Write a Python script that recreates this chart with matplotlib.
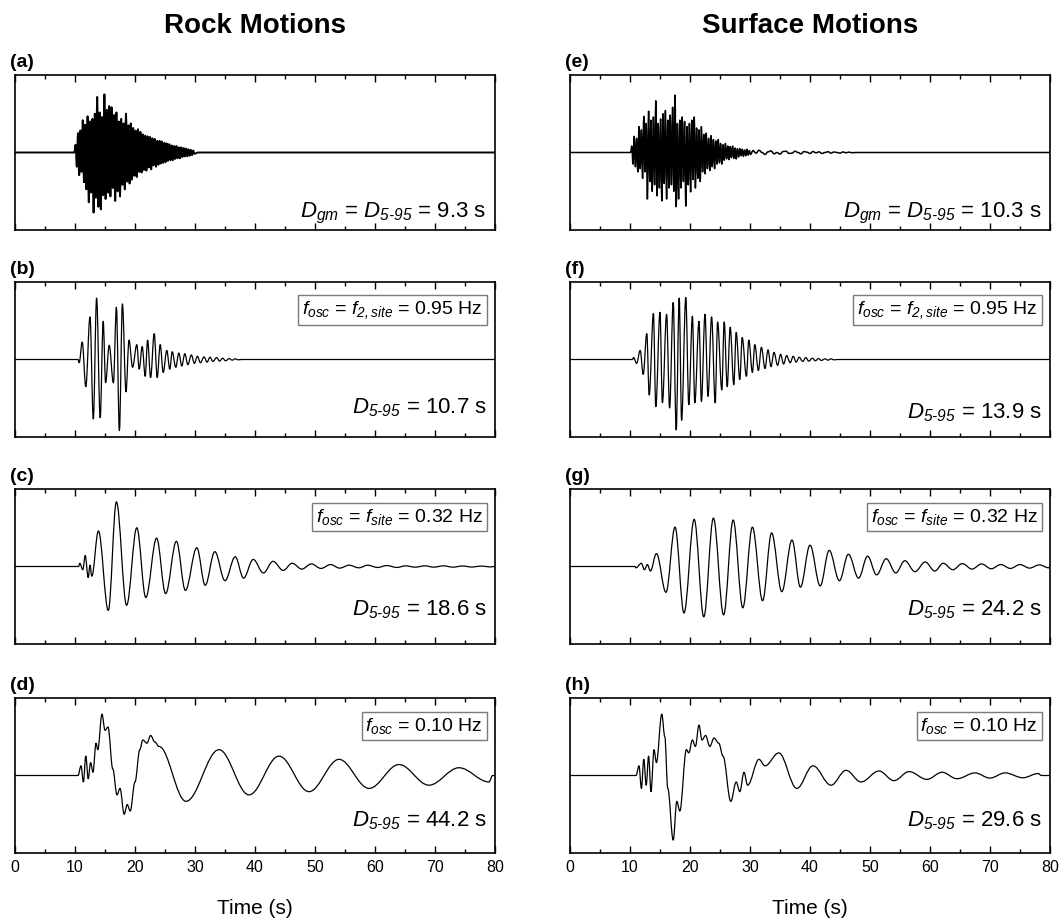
import numpy as np
import matplotlib
matplotlib.use("Agg")
import matplotlib.pyplot as plt
from matplotlib.path import Path
from matplotlib.patches import PathPatch
from matplotlib.ticker import MultipleLocator

plt.rcParams.update({
    "font.family": ["Liberation Sans", "DejaVu Sans"],
    "mathtext.fontset": "custom",
    "mathtext.rm": "Liberation Sans:italic",
    "mathtext.it": "Liberation Sans:italic",
    "mathtext.bf": "Liberation Sans:bold",
})

# ---------------------------------------------------------------- data
# Dense acceleration records: alternating peaks sampled every DENSE_DT seconds
DENSE_DT = 0.2
rock_acc_onset = 10.1
rock_acc = [0.12, -0.22, 0.30, -0.35, 0.34, -0.30, 0.50, -0.46, 0.43, -0.57,
            0.56, -0.77, 0.48, -0.62, 0.52, -0.93, 0.60, -0.70, 0.86, -0.84,
            0.62, -0.88, 0.55, -0.66, 0.90, -0.72, 0.66, -0.62, 0.72, -0.68,
            0.70, -0.55, 0.58, -0.75, 0.62, -0.60, 0.48, -0.68, 0.52, -0.50,
            0.45, -0.57, 0.60, -0.45, 0.42, -0.48, 0.45, -0.42, 0.38, -0.36,
            0.34, -0.38, 0.36, -0.30, 0.32, -0.31, 0.28, -0.27, 0.26, -0.28,
            0.25, -0.23, 0.24, -0.26, 0.22, -0.20, 0.21, -0.22, 0.18, -0.19,
            0.18, -0.17, 0.17, -0.16, 0.15, -0.15, 0.14, -0.13, 0.13, -0.12,
            0.11, -0.12, 0.10, -0.10, 0.10, -0.09, 0.08, -0.09, 0.08, -0.07,
            0.07, -0.06, 0.06, -0.06, 0.05, -0.05, 0.04, -0.04, 0.03, -0.02]

surf_acc_onset = 10.3
surf_acc = [0.10, -0.18, 0.25, -0.22, 0.22, -0.30, 0.40, -0.25, 0.35, -0.40,
            0.56, -0.30, 0.45, -0.72, 0.64, -0.45, 0.50, -0.60, 0.55, -0.50,
            0.80, -0.67, 0.45, -0.55, 0.52, -0.75, 0.60, -0.48, 0.65, -0.72,
            0.50, -0.55, 0.58, -0.50, 0.70, -0.60, 0.89, -0.84, 0.45, -0.72,
            0.50, -0.55, 0.55, -0.45, 0.48, -0.83, 0.40, -0.50, 0.45, -0.61,
            0.50, -0.42, 0.55, -0.55, 0.38, -0.40, 0.35, -0.45, 0.40, -0.30,
            0.28, -0.33, 0.30, -0.25, 0.22, -0.28, 0.26, -0.22, 0.20, -0.25,
            0.18, -0.18, 0.20, -0.16, 0.14, -0.18, 0.12, -0.12, 0.14, -0.10,
            0.10, -0.11, 0.09, -0.08, 0.10, -0.09, 0.07, -0.10, 0.06, -0.07,
            0.06, -0.05, 0.05, -0.06, 0.04, -0.05, 0.05, -0.04, 0.03, -0.03]
# low-level coda of the surface record, sampled every SURF_CODA_DT seconds
SURF_CODA_DT = 0.5
surf_coda_onset = 30.5
surf_coda = [0.03, -0.01, 0.035, 0.0, -0.03, 0.01, 0.025, -0.02, 0.0, -0.025,
             0.015, 0.02, -0.015, -0.01, 0.02, 0.0, -0.02, 0.015, 0.005, -0.015,
             0.015, -0.005, 0.01, -0.015, 0.0, 0.012, -0.01, 0.008, 0.0, -0.01,
             0.008, -0.004, 0.006, -0.004]

# Oscillator responses: times (s) and values of successive extrema
rock_f095_t = [10.7, 11.2, 11.8, 12.5, 13.05, 13.6, 14.2, 14.7, 15.1, 15.7,
               16.4, 16.9, 17.4, 17.9, 18.5, 19.0, 19.6, 20.3, 20.7, 21.2,
               21.7, 22.1, 22.6, 23.2, 23.7, 24.2, 24.7, 25.3, 25.8, 26.2,
               26.8, 27.3, 27.8, 28.3, 28.8, 29.4, 29.9, 30.4, 30.9, 31.5,
               32.0, 32.5, 33.0, 33.6, 34.1, 34.6, 35.1, 35.7, 36.2, 36.7, 37.2]
rock_f095_v = [-0.05, 0.27, -0.42, 0.66, -0.92, 0.95, -0.90, 0.59, -0.36, 0.22,
               -0.36, 0.81, -1.10, 0.86, -0.50, 0.30, -0.12, 0.23, -0.15, 0.20,
               -0.26, 0.30, -0.28, 0.40, -0.28, 0.23, -0.20, 0.14, -0.15, 0.12,
               -0.12, 0.10, -0.10, 0.09, -0.08, 0.07, -0.06, 0.05, -0.05, 0.04,
               -0.04, 0.035, -0.03, 0.03, -0.025, 0.02, -0.02, 0.015, -0.01, 0.01, -0.005]

rock_f032_t = [10.8, 11.3, 11.7, 12.2, 12.5, 12.8, 13.9, 15.55, 16.9, 18.6,
               20.3, 21.8, 23.6, 25.1, 26.9, 28.4, 30.3, 31.7, 33.3, 35.0,
               36.7, 38.1, 39.7, 41.4, 43.0, 44.7, 46.2, 47.8, 49.4, 51.0,
               52.6, 54.1, 55.7, 57.3, 58.8, 60.4, 62.0, 63.6, 65.1, 66.7,
               68.3, 69.8, 71.4, 73.0, 74.6, 76.1, 77.7, 79.3]
rock_f032_v = [0.05, -0.05, 0.17, -0.17, 0.02, -0.15, 0.55, -0.68, 1.00, -0.60,
               0.60, -0.48, 0.44, -0.42, 0.39, -0.37, 0.29, -0.29, 0.23, -0.22,
               0.15, -0.18, 0.11, -0.10, 0.08, -0.06, 0.05, -0.04, 0.04, -0.03,
               0.03, -0.025, 0.02, -0.02, 0.02, -0.015, 0.015, -0.015, 0.01, -0.01,
               0.01, -0.01, 0.01, -0.01, 0.008, -0.008, 0.006, -0.006]

rock_f010_t = [10.5, 11.0, 11.4, 11.8, 12.2, 12.6, 13.0, 13.5, 13.8, 14.5,
               15.0, 15.5, 16.3, 17.0, 17.5, 18.2, 18.7, 19.2, 20.0, 20.8,
               21.3, 22.0, 22.6, 23.3, 24.0, 28.5, 34.0, 39.0, 44.0, 49.0,
               54.0, 59.0, 64.0, 69.0, 74.0, 79.0]
rock_f010_v = [0.0, 0.15, -0.10, 0.30, -0.05, 0.20, 0.05, 0.50, 0.40, 0.95,
               0.70, 0.75, 0.10, -0.30, -0.20, -0.60, -0.45, -0.55, -0.10, 0.40,
               0.55, 0.50, 0.62, 0.52, 0.45, -0.40, 0.40, -0.30, 0.30, -0.25,
               0.25, -0.20, 0.17, -0.15, 0.12, -0.10]

surf_f095_t = [10.6, 11.1, 11.7, 12.2, 12.8, 13.2, 13.9, 14.3, 15.0, 15.4,
               16.1, 16.6, 17.2, 17.7, 18.2, 18.6, 19.3, 19.8, 20.4, 20.8,
               21.5, 21.9, 22.5, 23.0, 23.6, 24.2, 24.6, 25.3, 25.7, 26.2,
               26.7, 27.3, 27.7, 28.3, 28.7, 29.4, 29.8, 30.4, 30.8, 31.4,
               31.9, 32.5, 33.0, 33.5, 34.0, 34.6, 35.1, 35.6, 36.1, 36.7,
               37.2, 37.7, 38.2, 38.8, 39.3, 39.8, 40.4, 40.9, 41.4, 41.9,
               42.5, 43.0, 43.5, 44.0]
surf_f095_v = [0.03, -0.06, 0.14, -0.23, 0.40, -0.55, 0.71, -0.73, 0.73, -0.67,
               0.70, -0.75, 0.88, -1.09, 0.95, -0.94, 0.96, -0.70, 0.67, -0.67,
               0.59, -0.65, 0.70, -0.57, 0.66, -0.67, 0.58, -0.47, 0.58, -0.42,
               0.50, -0.39, 0.42, -0.31, 0.34, -0.26, 0.30, -0.20, 0.23, -0.17,
               0.19, -0.14, 0.15, -0.11, 0.11, -0.09, 0.08, -0.07, 0.06, -0.05,
               0.05, -0.04, 0.035, -0.03, 0.03, -0.025, 0.02, -0.02, 0.015, -0.015,
               0.01, -0.01, 0.01, -0.005]

surf_f032_t = [11.0, 11.9, 12.4, 12.9, 13.4, 14.4, 16.0, 17.5, 19.0, 20.7,
               22.3, 23.9, 25.6, 27.2, 28.8, 30.4, 32.1, 33.6, 35.3, 37.0,
               38.4, 40.0, 41.7, 43.2, 44.9, 46.4, 48.1, 49.6, 51.1, 52.7,
               54.3, 55.8, 57.5, 59.2, 60.8, 62.2, 63.8, 65.4, 67.0, 68.6,
               70.2, 71.8, 73.4, 75.0, 76.6, 78.2, 79.8]
surf_f032_v = [-0.02, 0.05, -0.05, 0.03, -0.07, 0.20, -0.40, 0.61, -0.72, 0.73,
               -0.78, 0.75, -0.75, 0.72, -0.64, 0.61, -0.53, 0.52, -0.39, 0.41,
               -0.32, 0.33, -0.30, 0.25, -0.22, 0.19, -0.18, 0.16, -0.13, 0.12,
               -0.10, 0.09, -0.08, 0.07, -0.07, 0.05, -0.05, 0.045, -0.04, 0.04,
               -0.035, 0.03, -0.03, 0.03, -0.025, 0.025, -0.02]

surf_f010_t = [11.0, 11.5, 11.9, 12.3, 12.7, 13.1, 13.5, 14.0, 14.4, 15.3,
               15.8, 16.3, 17.2, 17.8, 18.3, 19.4, 19.8, 20.4, 20.9, 21.5,
               22.0, 22.6, 23.3, 24.0, 24.8, 25.5, 26.8, 27.7, 28.3, 29.0,
               29.6, 31.5, 32.5, 34.8, 37.8, 40.5, 43.5, 46.0, 48.5, 51.5,
               54.0, 56.5, 59.5, 62.0, 64.5, 67.5, 70.0, 72.5, 75.5, 78.0]
surf_f010_v = [0.0, 0.15, -0.20, 0.25, -0.15, 0.30, -0.25, 0.40, 0.20, 0.95,
               0.60, -0.20, -1.00, -0.40, -0.55, 0.40, 0.35, 0.55, 0.45, 0.78,
               0.55, 0.62, 0.45, 0.58, 0.50, 0.30, -0.40, -0.10, -0.25, 0.05,
               -0.15, 0.25, 0.15, 0.35, -0.20, 0.15, -0.15, 0.08, -0.10, 0.07,
               -0.08, 0.06, -0.06, 0.05, -0.05, 0.04, -0.04, 0.04, -0.035, 0.03]

panel_letters = ["(a)", "(b)", "(c)", "(d)", "(e)", "(f)", "(g)", "(h)"]
column_titles = ["Rock Motions", "Surface Motions"]
duration_labels = [
    r"$D_{gm}$ = $D_{5‐95}$ = 9.3 s",
    r"$D_{5‐95}$ = 10.7 s",
    r"$D_{5‐95}$ = 18.6 s",
    r"$D_{5‐95}$ = 44.2 s",
    r"$D_{gm}$ = $D_{5‐95}$ = 10.3 s",
    r"$D_{5‐95}$ = 13.9 s",
    r"$D_{5‐95}$ = 24.2 s",
    r"$D_{5‐95}$ = 29.6 s",
]
oscillator_labels = [
    None,
    r"$f_{osc}$ = $f_{2,site}$ = 0.95 Hz",
    r"$f_{osc}$ = $f_{site}$ = 0.32 Hz",
    r"$f_{osc}$ = 0.10 Hz",
]
x_label = "Time (s)"
T_MAX = 80


# ---------------------------------------------------------------- helpers
def dense_series(onset, dt, values):
    times = onset + dt * np.arange(len(values))
    return list(times), list(values)


def smooth_trace(ax, times, values, lw=0.9):
    """Draw a trace through successive extrema with cubic Bezier segments
    (horizontal tangents at each extremum), starting and ending at rest."""
    pts = [(0.0, 0.0), (times[0] - 0.2, 0.0)]
    pts += list(zip(times, values))
    pts += [(min(times[-1] + 0.6, T_MAX), 0.0), (T_MAX, 0.0)]
    verts = [pts[0]]
    codes = [Path.MOVETO]
    k = 0.36
    for (x0, y0), (x1, y1) in zip(pts[:-1], pts[1:]):
        dx = x1 - x0
        verts += [(x0 + k * dx, y0), (x1 - k * dx, y1), (x1, y1)]
        codes += [Path.CURVE4] * 3
    patch = PathPatch(Path(verts, codes), fill=False, edgecolor="black",
                      lw=lw, transform=ax.transData, joinstyle="round")
    ax.add_patch(patch)


# ---------------------------------------------------------------- figure
fig = plt.figure(figsize=(10.64, 9.23), dpi=100)

W, H = 1064.0, 923.0
col_left = [15, 570]
ax_w = 480
row_top = [75, 282, 489, 698]
ax_h = 155

rt, rv = dense_series(rock_acc_onset, DENSE_DT, rock_acc)
st, sv = dense_series(surf_acc_onset, DENSE_DT, surf_acc)
ct, cv = dense_series(surf_coda_onset, SURF_CODA_DT, surf_coda)
traces = [
    (rt, rv),
    (rock_f095_t, rock_f095_v),
    (rock_f032_t, rock_f032_v),
    (rock_f010_t, rock_f010_v),
    (st + ct, sv + cv),
    (surf_f095_t, surf_f095_v),
    (surf_f032_t, surf_f032_v),
    (surf_f010_t, surf_f010_v),
]
trace_lw = [1.4, 0.9, 0.9, 0.9, 1.1, 0.9, 0.9, 0.9]
label_baseline = [0.08, 0.155, 0.185, 0.17, 0.08, 0.12, 0.185, 0.17]

for col in range(2):
    for row in range(4):
        idx = col * 4 + row
        left = col_left[col] / W
        bottom = 1 - (row_top[row] + ax_h) / H
        ax = fig.add_axes([left, bottom, ax_w / W, ax_h / H])
        ax.set_xlim(0, T_MAX)
        ax.set_ylim(-1.2, 1.2)
        ax.set_yticks([])
        ax.xaxis.set_major_locator(MultipleLocator(10))
        ax.xaxis.set_minor_locator(MultipleLocator(5))
        ax.tick_params(axis="x", which="both", direction="in", top=True,
                       bottom=True, width=1.0, labelsize=11.5, pad=5)
        ax.tick_params(axis="x", which="major", length=5)
        ax.tick_params(axis="x", which="minor", length=3)
        for sp in ax.spines.values():
            sp.set_linewidth(1.2)
        if row < 3:
            ax.tick_params(axis="x", labelbottom=False)
        else:
            ax.set_xlabel(x_label, fontsize=15, labelpad=17)

        t, v = traces[idx]
        smooth_trace(ax, t, v, lw=trace_lw[idx])

        ax.text(0.983, label_baseline[idx], duration_labels[idx],
                transform=ax.transAxes, ha="right", va="baseline", fontsize=16)
        osc = oscillator_labels[row]
        if osc is not None:
            ax.text(0.975, 0.82, osc, transform=ax.transAxes, ha="right",
                    va="center", fontsize=14,
                    bbox=dict(boxstyle="square,pad=0.2", fc="white",
                              ec="#7a7a7a", lw=1.0))
        fig.text(left - 5 / W, 1 - (row_top[row] - 8) / H, panel_letters[idx],
                 ha="left", va="baseline", fontsize=14, fontweight="bold")

    fig.text((col_left[col] + ax_w / 2) / W, 1 - 33 / H, column_titles[col],
             ha="center", va="baseline", fontsize=20, fontweight="bold")

fig.savefig("out.png", dpi=100)
